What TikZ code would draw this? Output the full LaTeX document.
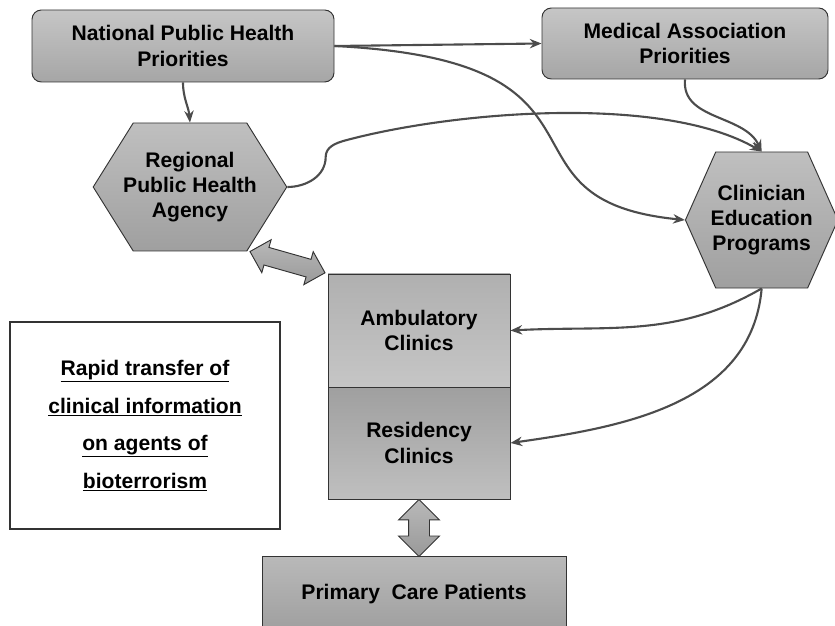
\documentclass[tikz,border=0pt]{standalone}
\usepackage{fontspec}
\setmainfont{Liberation Sans}
\usetikzlibrary{positioning,calc,arrows.meta,shapes.symbols,shapes.arrows}
\def\LabelFont{\fontsize{18}{21.5}\selectfont\bfseries}
\def\ClinicWidth{5.46cm}
\tikzset{
  link/.style={-{Stealth[length=10pt,width=8pt]},draw=black!70,line width=1.8pt},
  priority/.style={
    draw=black!80,
    line width=0.8pt,
    rounded corners=8pt,
    top color=gray!45,
    bottom color=gray!70,
    align=center,
    font=\LabelFont
  },
  hexa/.style={
    signal,
    signal to=east and west,
    draw=black!80,
    line width=0.8pt,
    top color=gray!50,
    bottom color=gray!75,
    align=center,
    inner ysep=0pt,
    font=\LabelFont
  },
  clinic/.style={
    draw=black!80,
    line width=0.8pt,
    minimum width=\ClinicWidth,
    align=center,
    font=\LabelFont
  },
  bigarrow/.style={
    double arrow,
    draw=black!80,
    line width=0.8pt,
    top color=gray!55,
    bottom color=gray!80,
    inner xsep=0pt,
    minimum width=0pt
  }
}

\begin{document}
\begin{tikzpicture}
  \useasboundingbox (0,0) rectangle (25.05,18.75);

  \node[priority, minimum width=9.06cm, minimum height=2.16cm] (nat) at (5.49,17.37) {National Public Health\\Priorities};
  \node[priority, minimum width=8.58cm, minimum height=2.13cm] (med) at (20.55,17.445) {Medical Association\\Priorities};

  \node[hexa, signal pointer angle=116, inner xsep=-0.3cm, minimum height=3.84cm] (reg) at (5.70,13.14) {Regional\\Public Health\\Agency};
  \node[hexa, signal pointer angle=132, inner xsep=-0.15cm, minimum height=4.08cm] (clin) at (22.85,12.15) {Clinician\\Education\\Programs};

  % Clinics stacked as one block.
  \node[clinic, minimum height=3.39cm, top color=gray!62, bottom color=gray!45] (amb) at (12.57,8.835) {Ambulatory\\Clinics};
  \node[clinic, minimum height=3.36cm, top color=gray!75, bottom color=gray!50, below=-0.8pt of amb] (res) {Residency\\Clinics};
  \node[clinic, minimum width=9.12cm, minimum height=2.2cm, top color=gray!55, bottom color=gray!75, below=1.71cm of res, xshift=-0.15cm] (pat) {Primary\ \ Care Patients};

  \node[draw=black!80, line width=1.2pt, fill=white, minimum width=8.1cm, minimum height=6.21cm,
    align=center, font=\fontsize{18}{32}\selectfont\bfseries] (note) at (4.35,5.985)
    {\underline{Rapid transfer of}\\\underline{clinical information}\\\underline{on agents of}\\\underline{bioterrorism}};

  \draw[link] (nat.south) to[out=-90,in=95] (reg.north);
  \draw[link] (nat.east) -- (med.west);
  \draw[link] (nat.east) .. controls ($(nat.east)+(9.12,-0.45)$) and ($(clin.west)+(-6.09,0.6)$) .. (clin.west);
  \draw[link] (reg.east) to[out=0,in=-90] ++(1.15,0.9) to[out=90,in=-165] ++(0.6,0.5)
    to[out=15,in=150,looseness=0.7] (clin.north);
  \draw[link] (med.south) to[out=-95,in=115] (clin.north);
  \draw[link] (clin.south) to[out=-150,in=3] (amb.east);
  \draw[link] (clin.south) to[out=-95,in=8] (res.east);

  % Two-way exchange arrows.
  \path (reg.-48) -- node[bigarrow, sloped, minimum height=2.34cm, inner ysep=0.26cm, double arrow head extend=0.24cm] {} (amb.north west);
  \path (res.south) -- node[bigarrow, sloped, minimum height=1.71cm, inner ysep=0.3cm, double arrow head extend=0.3cm] {} (res.south |- pat.north);
\end{tikzpicture}
\end{document}
